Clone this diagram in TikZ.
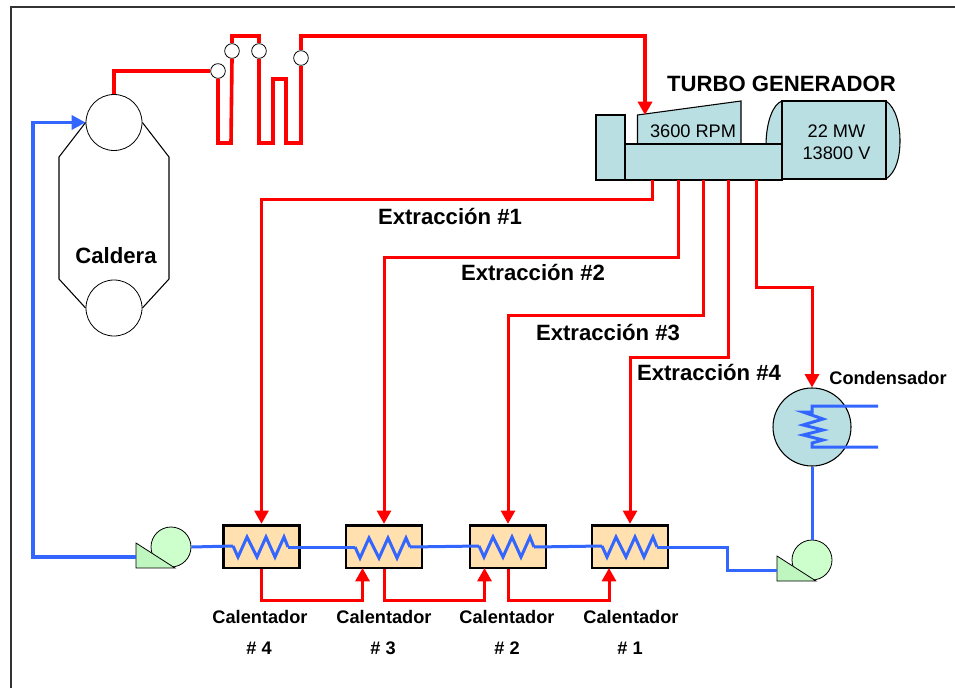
\documentclass[tikz,border=0pt]{standalone}
\usepackage{fontspec}
\setmainfont{Liberation Sans}
\usepackage{xcolor}
\usetikzlibrary{arrows.meta, positioning, calc}
\definecolor{steamred}{HTML}{FF0000}
\definecolor{waterblue}{HTML}{3366FF}
\definecolor{turbofill}{HTML}{B9DFE3}
\definecolor{heaterfill}{HTML}{FFE0AE}
\definecolor{pumpfill}{HTML}{CCFFCC}
\definecolor{basefill}{HTML}{BFF5BF}
\definecolor{framegray}{HTML}{333333}

\begin{document}
\begin{tikzpicture}[
  x=0.75pt, y=-0.75pt,
  drum/.style={circle, draw=black, line width=0.6pt, minimum size=42pt, inner sep=0pt},
  valve/.style={circle, draw=black, line width=0.6pt, fill=white, minimum size=11pt, inner sep=0pt},
  machine/.style={draw=black, line width=0.8pt, fill=turbofill},
  machinebox/.style={rectangle, machine, inner sep=0pt},
  heater/.style={rectangle, draw=black, line width=2pt, fill=heaterfill, minimum width=57pt, minimum height=32pt, inner sep=0pt},
  pump/.style={circle, draw=black, line width=0.6pt, fill=pumpfill, minimum size=30pt, inner sep=0pt},
  pumpbase/.style={draw=black, line width=0.6pt, fill=basefill},
  steam/.style={draw=steamred, line width=2.25pt},
  mainsteam/.style={draw=steamred, line width=2.7pt},
  steamarrow/.style={-{Triangle[length=10pt, width=10.5pt, color=steamred]}},
  water/.style={draw=waterblue, line width=2.25pt},
  feedwater/.style={draw=waterblue, line width=2.7pt, -{Triangle[length=10.5pt, width=10.5pt, color=waterblue]}},
  biglabel/.style={font=\fontsize{16.6}{20}\selectfont\bfseries},
  smalllabel/.style={font=\fontsize{13.65}{16}\selectfont\bfseries},
  plainlabel/.style={font=\fontsize{13.65}{16.5}\selectfont, align=center}
]
  \useasboundingbox (0,0) rectangle (955,688);

  % Outer frame
  \coordinate (framebl) at (11,688);
  \coordinate (frametl) at (11,7);
  \coordinate (frametr) at (955,7);
  \draw[framegray, line width=1.5pt] (framebl) -- (frametl) -- (frametr);

  % Boiler
  \node[drum] (drumtop) at (114,122.5) {};
  \node[drum] (drumbot) at (114,308) {};
  \draw[black, line width=0.8pt] (drumtop.west) -- (59,157) -- (59,279) -- (drumbot.west);
  \draw[black, line width=0.8pt] (drumtop.east) -- (169,157) -- (169,279) -- (drumbot.east);
  \node[biglabel] (caldera) at (116,256) {Caldera};

  % Superheater valves
  \node[valve] (v1) at (218,71) {};
  \node[valve] (v2) at (232,51) {};
  \node[valve] (v3) at (259,51) {};
  \node[valve] (v4) at (301,58) {};

  % Generator
  \draw[machine] (782,101) .. controls (773,104) and (766,122) .. (766,146) -- (782,146) -- cycle;
  \draw[machine] (886,101) .. controls (896,108) and (900,125) .. (900,140) .. controls (900,158) and (896,172) .. (886,179) -- cycle;
  \node[machinebox, minimum width=78pt, minimum height=58.5pt] (gen) at (834,140) {};
  \node[plainlabel] (genlabel) at (836.5,142) {22 MW\\13800 V};

  % Turbine
  \node[machinebox, minimum width=21.75pt, minimum height=48.75pt] (shaft) at (610.5,147.5) {};
  \draw[machine] (637.5,144) -- (637.5,115) -- (741,101) -- (741,144) -- cycle;
  \node[machinebox, minimum width=117.75pt, minimum height=27pt] (turbbase) at (703.5,162) {};
  \node[plainlabel] (rpm) at (693,131) {3600 RPM};
  \node[biglabel] (turbolabel) at (781.5,84) {TURBO GENERADOR};

  % Turbine taps
  \coordinate (tap1) at (652,180);
  \coordinate (tap2) at (678,180);
  \coordinate (tap3) at (703,180);
  \coordinate (tap4) at (728,180);
  \coordinate (tap5) at (756,180);
  \coordinate (steamin) at (645,115);

  % Heaters
  \node[heater] (cal4) at (261.5,546.5) {};
  \node[heater] (cal3) at (384,546.5) {};
  \node[heater] (cal2) at (508,546.5) {};
  \node[heater] (cal1) at (630,546.5) {};
  \coordinate (cal3in) at (362.5,568);
  \coordinate (cal2in) at (484.5,568);
  \coordinate (cal1in) at (609,568);

  \node[smalllabel] (lab4) at (260,617) {Calentador};
  \node[smalllabel] (lab3) at (384,617) {Calentador};
  \node[smalllabel] (lab2) at (507,617) {Calentador};
  \node[smalllabel] (lab1) at (631,617) {Calentador};
  \node[smalllabel] (num4) at (259,648) {\# 4};
  \node[smalllabel] (num3) at (383,648) {\# 3};
  \node[smalllabel] (num2) at (507,648) {\# 2};
  \node[smalllabel] (num1) at (630,648) {\# 1};

  % Condenser
  \node[circle, machine, minimum size=58.5pt, inner sep=0pt] (cond) at (812,427) {};
  \node[smalllabel] (condlabel) at (888,378) {Condensador};
  \coordinate (cwout) at (878,406);
  \coordinate (cwin) at (878,447);

  % Pumps
  \node[pump] (pumpa) at (171,547) {};
  \draw[pumpbase] (136,543) -- (136,568) -- (175,568) -- cycle;
  \node[pump] (pumpb) at (812,560) {};
  \draw[pumpbase] (777,556) -- (777,581) -- (816,581) -- cycle;
  \coordinate (pumpaout) at (136,557);
  \coordinate (pumpbin) at (777,570);

  % Extraction labels
  \node[biglabel] (ext1) at (450,216.5) {Extracción \#1};
  \node[biglabel] (ext2) at (533,272.5) {Extracción \#2};
  \node[biglabel] (ext3) at (608,332.5) {Extracción \#3};
  \node[biglabel] (ext4) at (709,372.5) {Extracción \#4};

  % Main steam
  \draw[mainsteam] (drumtop.north) -- (114,71) -- (v1.west);
  \draw[mainsteam] (v1.south) -- (218,143) -- (231,143) -- (v2.south);
  \draw[mainsteam] (v2.north) -- (232,36) -- (259,36) -- (v3.north);
  \draw[mainsteam] (v3.south) -- (259,143) -- (273,143) -- (273,79) -- (286,79) -- (286,143) -- (301,143) -- (v4.south);
  \draw[mainsteam, steamarrow] (v4.north) -- (301,36) -- (645,36) -- (steamin);

  % Extractions
  \draw[steam, steamarrow] (tap1) -- (652,199) -- (261.5,199) -- (cal4.north);
  \draw[steam, steamarrow] (tap2) -- (678,257) -- (384,257) -- (cal3.north);
  \draw[steam, steamarrow] (tap3) -- (703,315) -- (508,315) -- (cal2.north);
  \draw[steam, steamarrow] (tap4) -- (728,357) -- (630,357) -- (cal1.north);
  \draw[steam, steamarrow] (tap5) -- (756,287) -- (812,287) -- (cond.north);

  % Drains
  \draw[steam, steamarrow] (cal4.south) -- (261.5,600) -- (362.5,600) -- (cal3in);
  \draw[steam, steamarrow] (cal3.south) -- (384,600) -- (484.5,600) -- (cal2in);
  \draw[steam, steamarrow] (cal2.south) -- (508,600) -- (609,600) -- (cal1in);

  % Heater coils
  \coordinate (c4a) at (233,546);
  \coordinate (c4b) at (288,547);
  \coordinate (c3a) at (355,547);
  \coordinate (c3b) at (410,547);
  \coordinate (c2a) at (479,546);
  \coordinate (c2b) at (534,547);
  \coordinate (c1a) at (602,546);
  \coordinate (c1b) at (657,547);
  \draw[water] (c4a) -- ++(5,11) -- ++(9,-20) -- ++(10,20) -- ++(9,-20) -- ++(9,20) -- ++(9,-20) -- (c4b);
  \draw[water] (c3a) -- ++(5,11) -- ++(9,-20) -- ++(10,20) -- ++(9,-20) -- ++(9,20) -- ++(9,-20) -- (c3b);
  \draw[water] (c2a) -- ++(5,11) -- ++(9,-20) -- ++(10,20) -- ++(9,-20) -- ++(9,20) -- ++(9,-20) -- (c2b);
  \draw[water] (c1a) -- ++(5,11) -- ++(9,-20) -- ++(10,20) -- ++(9,-20) -- ++(9,20) -- ++(9,-20) -- (c1b);

  % Feedwater
  \draw[water] (pumpa.east) -- (c4a);
  \draw[water] (c4b) -- (c3a);
  \draw[water] (c3b) -- (c2a);
  \draw[water] (c2b) -- (c1a);
  \draw[water] (c1b) -- (727,547) -- (727,570) -- (pumpbin);
  \draw[feedwater] (pumpaout) -- (33,557) -- (33,122.5) -- (drumtop.west);

  % Condenser coil and outlet
  \draw[water] (cwout) -- (812,406) -- (812,412) -- (803,412) -- (823,419) -- (803,425) -- (823,430) -- (803,435) -- (823,440) -- (812,443) -- (812,447) -- (cwin);
  \draw[water] (cond.south) -- (pumpb.north);
\end{tikzpicture}
\end{document}
